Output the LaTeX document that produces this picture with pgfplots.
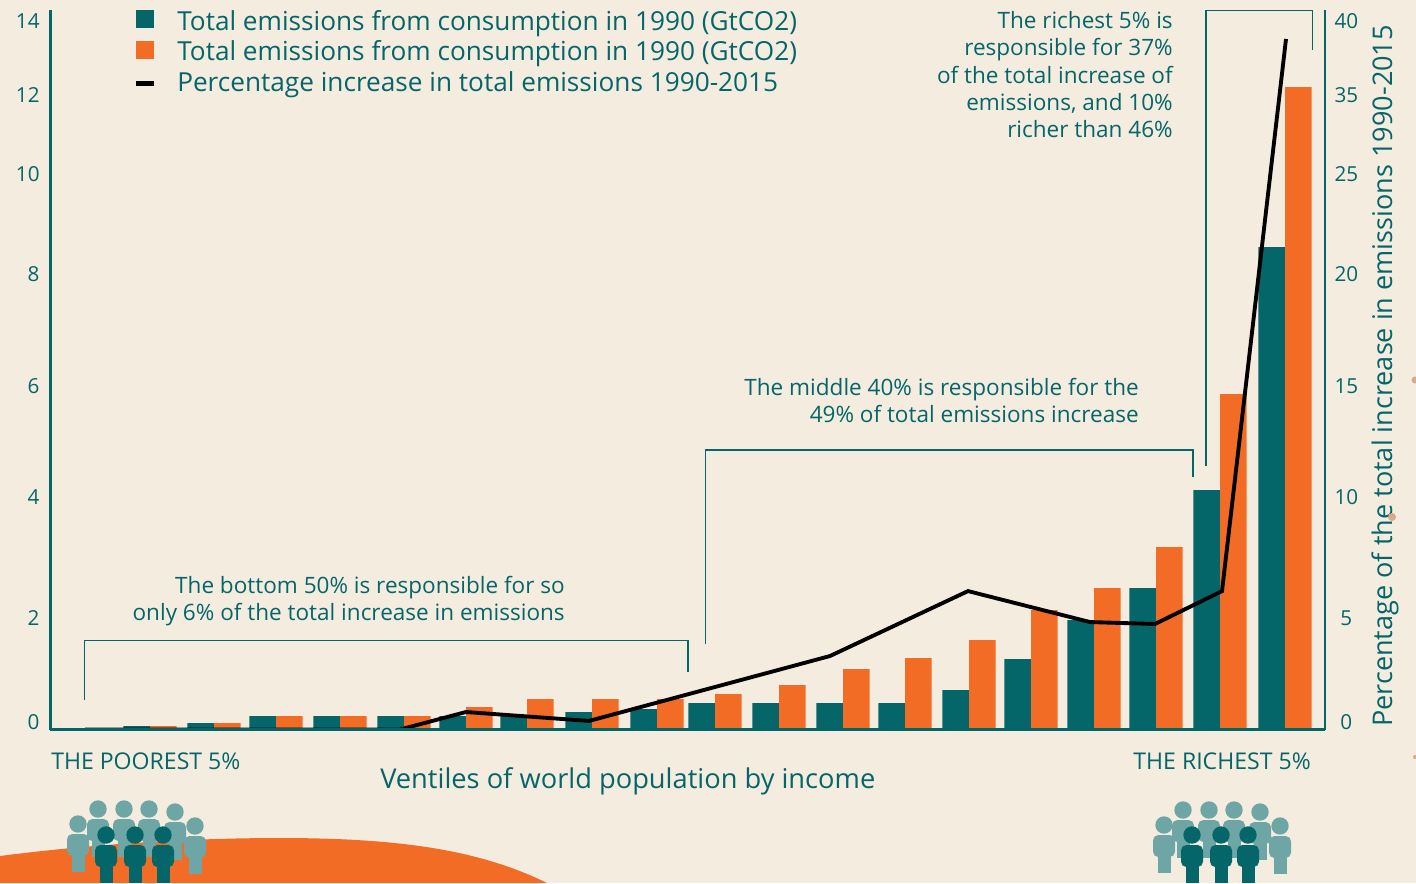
\documentclass[border=0pt]{standalone}
\usepackage{fontspec}
\setmainfont{Open Sans}
\usepackage{pgfplots}
\usepackage{pgfplotstable}
\pgfplotsset{compat=1.18}
\definecolor{bgc}{HTML}{F5ECE0}
\definecolor{tealc}{HTML}{046669}
\definecolor{orangec}{HTML}{F36C26}
\definecolor{lightc}{HTML}{6EA6A6}
\definecolor{dotc}{HTML}{D9A98A}

% ventile position (px), emissions teal, emissions orange
\pgfplotstableread{
x teal orange
87 0.02 0.02
150 0.07 0.07
214 0.13 0.13
276 0.27 0.27
340 0.27 0.27
404 0.27 0.27
466 0.27 0.45
527 0.27 0.61
592 0.35 0.61
657 0.41 0.61
715 0.53 0.71
779 0.53 0.89
843 0.53 1.21
905 0.53 1.43
969 0.79 1.79
1031 1.41 2.39
1094 2.19 2.83
1156 2.83 3.65
1220 4.79 6.71
1285 9.65 12.85
}\bars
\pgfplotstableread{
x pct
85 0.0
400 0.0
466 1.00
589 0.49
830 4.20
968 7.91
1090 6.14
1155 6.03
1222 7.91
1286 39.46
}\pct

% head x, head y, colour
\newcommand{\person}[3]{%
  \fill[#3] (#1,#2) circle (8.7);
  \fill[#3, rounded corners=4] (#1-11,#2+32) -- (#1-11,#2+10) -- (#1+11,#2+10) -- (#1+11,#2+32) -- cycle;
  \fill[#3] (#1-6.5,#2+31) rectangle (#1+6.5,#2+48);
}
\newcommand{\notefont}{\fontsize{16.9}{20.6}\selectfont}
\newcommand{\legfont}{\fontsize{19.65}{22}\selectfont}
\newcommand{\capfont}{\fontsize{17.3}{20}\selectfont}

\begin{document}
\begin{tikzpicture}
\begin{scope}[x=0.75pt,y=-0.75pt]
  \fill[bgc] (0,0) rectangle (1416,883);
  \coordinate (A) at (50.5,729.5);
  % hill
  \fill[orangec] (0,883) -- (0,856) .. controls (100,843) and (200,838) .. (280,838)
     .. controls (400,838) and (480,850) .. (547,883) -- cycle;
  % people left
  \person{78}{824}{lightc}\person{98}{809}{lightc}\person{124}{809}{lightc}
  \person{149}{809}{lightc}\person{175}{812}{lightc}\person{195}{826}{lightc}
  \person{106}{835}{tealc}\person{135}{835}{tealc}\person{163}{835}{tealc}
  % people right
  \person{1164}{825}{lightc}\person{1183}{810}{lightc}\person{1209}{810}{lightc}
  \person{1234}{810}{lightc}\person{1260}{812}{lightc}\person{1280}{826}{lightc}
  \person{1192}{835}{tealc}\person{1221}{835}{tealc}\person{1248}{835}{tealc}
\end{scope}

\begin{axis}[
    at={(A)}, anchor=south west,
    scale only axis,
    width=955.875pt, height=539.625pt,
    xmin=50.5, xmax=1325,
    ymin=0, ymax=14.39,
    axis x line=bottom, axis y line=left,
    axis line style={-, tealc, line width=2pt},
    axis on top,
    xtick=\empty,
    ytick={0.15,2.23,4.65,6.87,9.11,11.11,12.69,14.17},
    yticklabels={0\hspace{5.25pt},2\hspace{5.25pt},4,6,8,10,12,14},
    major tick length=0pt,
    yticklabel style={anchor=east, font=\fontsize{15.5}{18}\selectfont, text=tealc, xshift=-8pt, inner sep=0pt},
    ybar, bar width=19.9pt,
  ]
  \addplot[fill=tealc, draw=none, bar shift=-9.95pt] table[x=x, y=teal] {\bars};
  \addplot[fill=orangec, draw=none, bar shift=9.95pt] table[x=x, y=orange] {\bars};
\end{axis}

\begin{axis}[
    at={(A)}, anchor=south west,
    scale only axis,
    width=955.875pt, height=539.625pt,
    xmin=50.5, xmax=1325,
    ymin=0, ymax=41.114,
    axis x line=none, axis y line=right,
    axis line style={-, tealc, line width=2.2pt},
    xtick=\empty,
    ytick={0.43,6.37,13.29,19.63,26.03,31.74,36.26,40.49},
    yticklabels={0,5,10,15,20,25,35,40},
    major tick length=0pt,
    yticklabel style={anchor=center, font=\fontsize{15.5}{18}\selectfont, text=tealc, xshift=16pt, inner sep=0pt},
  ]
  \addplot[black, line width=2.9pt, line join=miter] table[x=x, y=pct] {\pct};
\end{axis}

\begin{scope}[x=0.75pt,y=-0.75pt, every node/.style={text=tealc, inner sep=0pt}]
  % baseline again, over the flat part of the line
  \draw[tealc, line width=2pt] (50.5,729.5) -- (1325,729.5);
  % legend
  \fill[tealc] (136,10) rectangle (154,28);
  \fill[orangec] (136,41) rectangle (154,59);
  \fill[black] (136,81) rectangle (154,86);
  \node[anchor=base west, font=\legfont] at (177,30) {Total emissions from consumption in 1990 (GtCO2)};
  \node[anchor=base west, font=\legfont] at (177,60) {Total emissions from consumption in 1990 (GtCO2)};
  \node[anchor=base west, font=\legfont] at (177,91) {Percentage increase in total emissions 1990-2015};
  % brackets
  \draw[tealc, line width=0.8pt] (84.5,700) -- (84.5,640.5) -- (688,640.5) -- (688,672);
  \draw[tealc, line width=0.8pt] (705.5,644) -- (705.5,450) -- (1193,450) -- (1193,477);
  \draw[tealc, line width=0.8pt] (1206,466) -- (1206,10.5) -- (1312.5,10.5) -- (1312.5,50);
  % notes
  \node[anchor=base east, font=\notefont] at (565,593) {The bottom 50\% is responsible for so};
  \node[anchor=base east, font=\notefont] at (565,620.5) {only 6\% of the total increase in emissions};
  \node[anchor=base east, font=\notefont] at (1139,395) {The middle 40\% is responsible for the};
  \node[anchor=base east, font=\notefont] at (1139,422.5) {49\% of total emissions increase};
  \node[anchor=base east, font=\notefont] at (1173,28) {The richest 5\% is};
  \node[anchor=base east, font=\notefont] at (1173,55.5) {responsible for 37\%};
  \node[anchor=base east, font=\notefont] at (1173,83) {of the total increase of};
  \node[anchor=base east, font=\notefont] at (1173,110) {emissions, and 10\%};
  \node[anchor=base east, font=\notefont] at (1173,137) {richer than 46\%};
  % x captions
  \node[anchor=base west, font=\capfont] at (51,769) {THE POOREST 5\%};
  \node[anchor=base east, font=\capfont] at (1311,769) {THE RICHEST 5\%};
  \node[anchor=base west, font=\fontsize{20.45}{24}\selectfont] at (380,788) {Ventiles of world population by income};
  \node[anchor=base west, rotate=90, font=\fontsize{20.3}{24}\selectfont] at (1392,727) {Percentage of the total increase in emissions 1990-2015};
  % stray dots on the right edge
  \fill[dotc] (1392,517) circle (4);
  \fill[dotc] (1415,380) circle (3.5);
  \fill[dotc] (1415,757) circle (2);
  % the page stays the reference's size
  \pgfresetboundingbox
  \useasboundingbox (0,0) rectangle (1416,883);
\end{scope}
\end{tikzpicture}
\end{document}
